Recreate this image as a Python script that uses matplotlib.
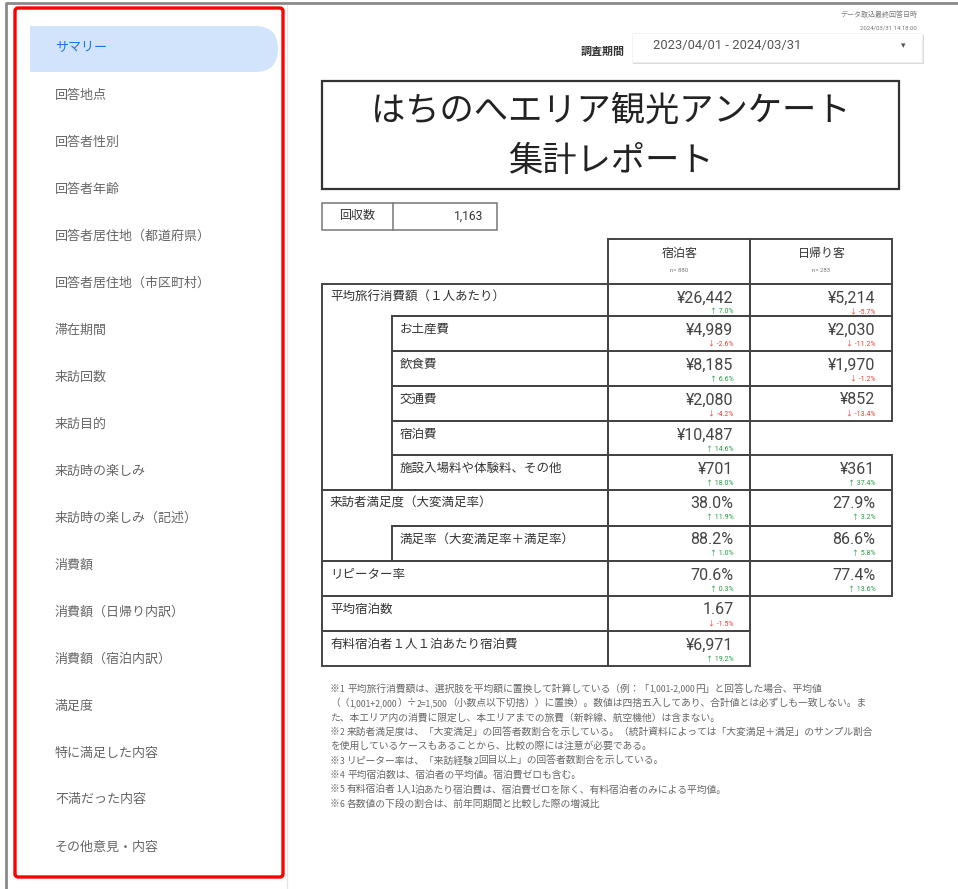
import re
import matplotlib
matplotlib.use("Agg")
import matplotlib.pyplot as plt
from matplotlib.patches import Rectangle, FancyBboxPatch

JP = ['Noto Sans CJK JP', 'DejaVu Sans']
RB = ['Roboto', 'Noto Sans CJK JP', 'DejaVu Sans']

# ---------------- data ----------------
sidebar_items = ["サマリー", "回答地点", "回答者性別", "回答者年齢", "回答者居住地（都道府県）",
                 "回答者居住地（市区町村）", "滞在期間", "来訪回数", "来訪目的", "来訪時の楽しみ",
                 "来訪時の楽しみ（記述）", "消費額", "消費額（日帰り内訳）", "消費額（宿泊内訳）",
                 "満足度", "特に満足した内容", "不満だった内容", "その他意見・内容"]
title_lines = ["はちのへエリア観光アンケート", "集計レポート"]
period_label = "調査期間"
period_value = "2023/04/01 - 2024/03/31"
update_label = "データ取込最終回答日時"
update_value = "2024/03/31 14:18:00"
responses_label = "回収数"
responses = 1163
col_headers = ["宿泊客", "日帰り客"]
col_n = [880, 283]
row_labels = ["平均旅行消費額（１人あたり）", "お土産費", "飲食費", "交通費", "宿泊費",
              "施設入場料や体験料、その他", "来訪者満足度（大変満足率）", "満足率（大変満足率＋満足率）",
              "リピーター率", "平均宿泊数", "有料宿泊者１人１泊あたり宿泊費"]
row_is_sub = [False, True, True, True, True, True, False, True, False, False, False]
row_format = ["yen", "yen", "yen", "yen", "yen", "yen", "pct", "pct", "pct", "num", "yen"]
stay_values = [26442, 4989, 8185, 2080, 10487, 701, 38.0, 88.2, 70.6, 1.67, 6971]
stay_change = [7.0, -2.6, 6.6, -4.2, 14.6, 18.0, 11.9, 1.0, 0.3, -1.5, 19.2]
day_values = [5214, 2030, 1970, 852, None, 361, 27.9, 86.6, 77.4, None, None]
day_change = [-5.7, -11.2, -1.2, -13.4, None, 37.4, 3.2, 5.8, 13.6, None, None]
notes = [
    "※1 平均旅行消費額は、選択肢を平均額に置換して計算している（例：「1,001-2,000円」と回答した場合、平均値",
    "（（1,001+2,000）÷2=1,500（小数点以下切捨））に置換）。数値は四捨五入してあり、合計値とは必ずしも一致しない。ま",
    "た、本エリア内の消費に限定し、本エリアまでの旅費（新幹線、航空機他）は含まない。",
    "※2 来訪者満足度は、「大変満足」の回答者数割合を示している。（統計資料によっては「大変満足＋満足」のサンプル割合",
    "を使用しているケースもあることから、比較の際には注意が必要である。",
    "※3 リピーター率は、「来訪経験2回目以上」の回答者数割合を示している。",
    "※4 平均宿泊数は、宿泊者の平均値。宿泊費ゼロも含む。",
    "※5 有料宿泊者1人1泊あたり宿泊費は、宿泊費ゼロを除く、有料宿泊者のみによる平均値。",
    "※6 各数値の下段の割合は、前年同期間と比較した際の増減比",
]


def fmt(v, kind):
    if kind == "yen":
        return "¥{:,.0f}".format(v)
    if kind == "pct":
        return "{:.1f}%".format(v)
    return "{:.2f}".format(v)


# ---------------- figure ----------------
W, H = 958, 889
fig = plt.figure(figsize=(W / 100, H / 100), dpi=100)
ax = fig.add_axes([0, 0, 1, 1])
ax.set_xlim(0, W)
ax.set_ylim(H, 0)
ax.axis("off")

PT = 0.72  # px -> pt

# outer frame
ax.plot([6, 6, W], [H, 3, 3], color="#8a8a8a", lw=2.0, solid_capstyle="butt")
ax.plot([287, 287], [5, H], color="#e6e6e6", lw=1.0)

# sidebar
pill_x0, pill_x1, pill_y0, pill_y1 = 30, 278, 26, 72
r = (pill_y1 - pill_y0) / 2
ax.add_patch(FancyBboxPatch((pill_x0, pill_y0), pill_x1 - pill_x0, pill_y1 - pill_y0,
                            boxstyle="round,pad=0,rounding_size=%f" % r,
                            fc="#d2e3fc", ec="none", zorder=1))
ax.add_patch(Rectangle((pill_x0, pill_y0), 2 * r, pill_y1 - pill_y0, fc="#d2e3fc", ec="none", zorder=1))
for i, item in enumerate(sidebar_items):
    y = 48 + i * 47
    ax.text(55, y, item, family=JP, fontsize=13 * PT, va="center", ha="left",
            color="#1a73e8" if i == 0 else "#666666", zorder=3)
ax.add_patch(FancyBboxPatch((15, 8), 268, 869, boxstyle="round,pad=0,rounding_size=3",
                            fc="none", ec="#ff0000", lw=2.4, zorder=5))

# top-right info
ax.text(917, 15, update_label, family=JP, fontsize=7 * PT, ha="right", va="center", color="#777777")
ax.text(917, 28, update_value, family=RB, fontsize=6 * PT, ha="right", va="center", color="#777777")

# period selector
ax.text(625, 52, period_label, family=JP, fontsize=11 * PT, ha="right", va="center",
        color="#333333", fontweight="bold")
ax.add_patch(Rectangle((633, 35), 291, 29, fc="#dcdcdc", ec="none", zorder=1))
ax.add_patch(Rectangle((632, 33), 290, 29, fc="white", ec="#eeeeee", lw=0.5, zorder=2))
ax.text(653, 46, period_value, family=RB, fontsize=13 * PT, ha="left", va="center", color="#555555", zorder=3)
ax.text(903, 46, "▾", family=['DejaVu Sans'], fontsize=9 * PT, ha="center", va="center", color="#555555", zorder=3)

# title box
ax.add_patch(Rectangle((322.5, 80.5), 577, 108, fc="white", ec="#333333", lw=1.6))
ax.text(611, 111, title_lines[0], family=JP, fontsize=34.3 * PT, ha="center", va="center", color="#222222")
ax.text(611, 162, title_lines[1], family=JP, fontsize=34.3 * PT, ha="center", va="center", color="#222222")

LC = "#444444"
LW = 1.4

# responses box
ax.add_patch(Rectangle((322.5, 202.5), 175, 27, fc="white", ec="#777777", lw=1.1))
ax.plot([393, 393], [202.5, 229.5], color="#777777", lw=1.1)
ax.text(357, 216, responses_label, family=JP, fontsize=12 * PT, ha="center", va="center", color="#333333")
ax.text(483, 216, "{:,}".format(responses), family=RB, fontsize=12 * PT, ha="right", va="center", color="#333333")

# table geometry
x_lab0, x_sub0, x_c1, x_c2, x_end = 322.5, 392.5, 608.5, 750.5, 892.5
row_edges = [284, 316, 351, 386, 421, 455, 490, 526, 561, 596, 631, 666]

# header
for k, (x0, x1) in enumerate([(x_c1, x_c2), (x_c2, x_end)]):
    ax.add_patch(Rectangle((x0, 238.5), x1 - x0, row_edges[0] - 238.5, fc="white", ec=LC, lw=LW))
    xc = (x0 + x1) / 2
    ax.text(xc, 253, col_headers[k], family=JP, fontsize=12 * PT, ha="center", va="center", color="#333333")
    ax.text(xc, 270, "n= {}".format(col_n[k]), family=RB, fontsize=6 * PT, ha="center", va="center", color="#777777")

# label cells: group rects
i = 0
n = len(row_labels)
while i < n:
    j = i + 1
    while j < n and row_is_sub[j]:
        j += 1
    ax.add_patch(Rectangle((x_lab0, row_edges[i]), x_c1 - x_lab0, row_edges[j] - row_edges[i],
                           fc="none", ec=LC, lw=LW, zorder=4))
    i = j

for i, lab in enumerate(row_labels):
    y0, y1 = row_edges[i], row_edges[i + 1]
    if row_is_sub[i]:
        ax.add_patch(Rectangle((x_sub0, y0), x_c1 - x_sub0, y1 - y0, fc="none", ec=LC, lw=LW, zorder=4))
        xt = 400
    else:
        xt = 330
        if i + 1 < n and row_is_sub[i + 1]:
            ax.plot([x_sub0, x_c1], [y1, y1], color=LC, lw=LW, zorder=4)
    ax.text(xt, y0 + 13.5, lab, family=JP, fontsize=12.5 * PT, ha="left", va="center", color="#333333", zorder=5)

    for (xa, xb, vals, chg) in [(x_c1, x_c2, stay_values, stay_change),
                                (x_c2, x_end, day_values, day_change)]:
        v = vals[i]
        if v is None:
            continue
        ax.add_patch(Rectangle((xa, y0), xb - xa, y1 - y0, fc="none", ec=LC, lw=LW, zorder=4))
        ax.text(xb - 17, y0 + 14, fmt(v, row_format[i]), family=RB, fontsize=16 * PT,
                ha="right", va="center", color="#444444", zorder=5)
        c = chg[i]
        up = c >= 0
        ax.text(xb - 17, y0 + 28, ("↑ " if up else "↓ ") + "{:.1f}%".format(c), family=RB,
                fontsize=7 * PT, ha="right", va="center",
                color="#1e9e3e" if up else "#ea3b2e", zorder=5)

# notes: CJK text at full size, half-width ASCII runs slightly smaller
renderer = fig.canvas.get_renderer()
NOTE_CJK = 9.8
NOTE_ASC = 8.6


def draw_mixed(x, y, s):
    for run in re.findall(r"[ ]+|[!-~]+|[^ !-~]+", s):
        if run[0] == " ":
            x += len(run) * NOTE_ASC * 0.3
            continue
        size = NOTE_ASC if run[0].isascii() else NOTE_CJK
        t = ax.text(x, y, run, family=JP, fontsize=size * PT, ha="left", va="baseline", color="#666666")
        x += t.get_window_extent(renderer).width


for k, line in enumerate(notes):
    draw_mixed(330, 691.5 + k * 14.4, line)

fig.savefig("out.png", dpi=100)
